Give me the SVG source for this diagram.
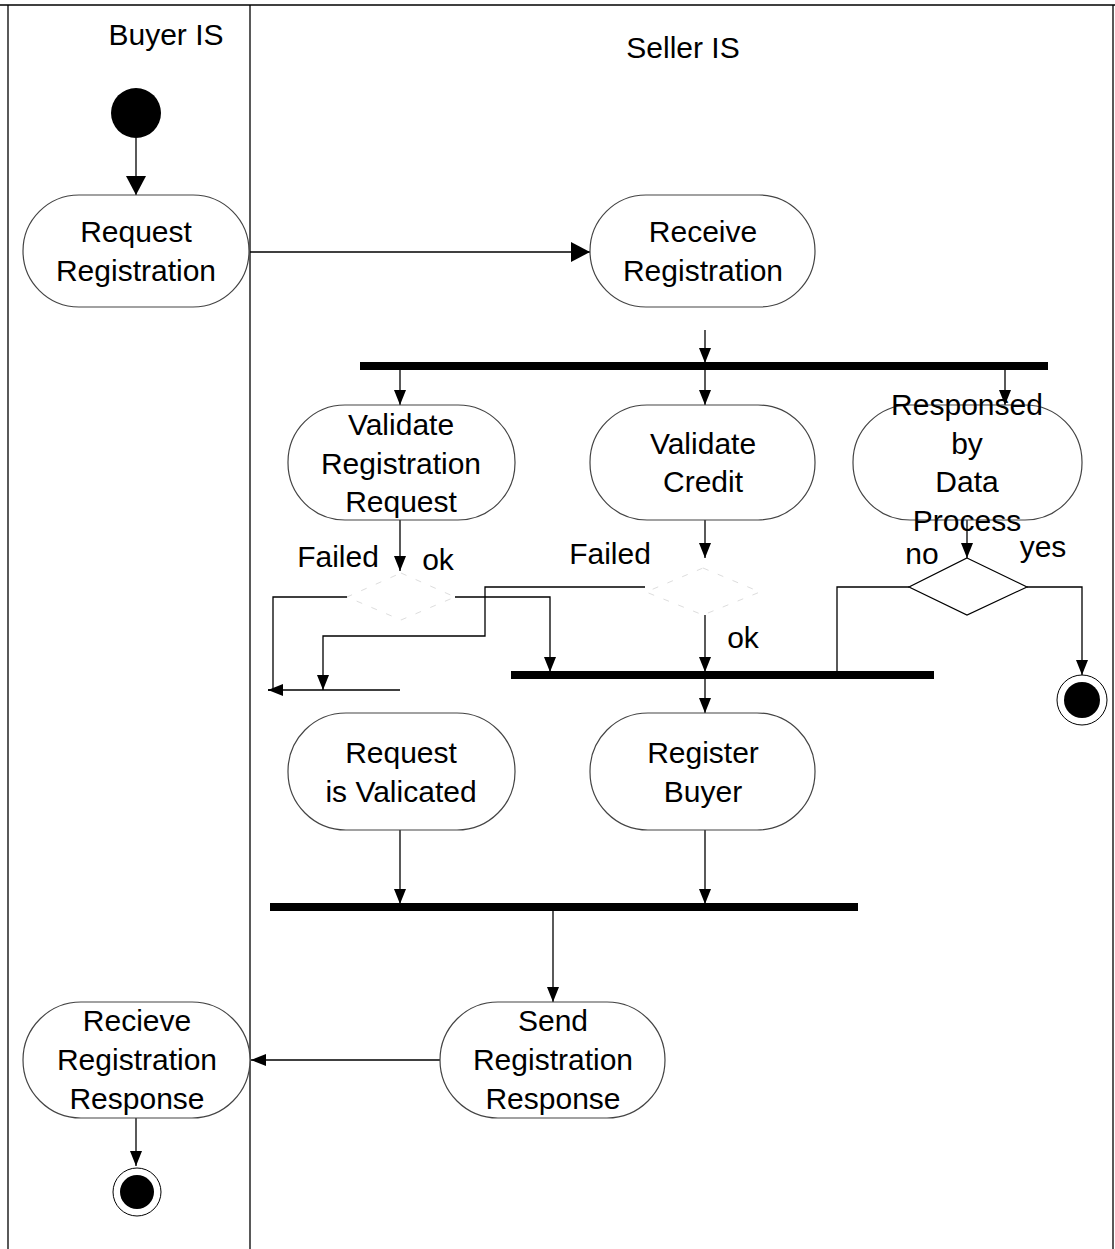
<svg xmlns="http://www.w3.org/2000/svg" width="1115" height="1249" viewBox="0 0 1115 1249">
<defs>
<marker id="arr" markerWidth="16" markerHeight="14" refX="15" refY="7" orient="auto" markerUnits="userSpaceOnUse">
<path d="M0,1 L15,7 L0,13 Z" fill="#000"/>
</marker>
<marker id="arrBig" markerWidth="20" markerHeight="22" refX="19" refY="11" orient="auto" markerUnits="userSpaceOnUse">
<path d="M0,1 L19,11 L0,21 Z" fill="#000"/>
</marker>
<style>
.act{fill:#fff;stroke:#444;stroke-width:1.2}
.t{font-family:"Liberation Sans",Arial,sans-serif;font-size:30px;fill:#000;text-anchor:middle}
.c{fill:none;stroke:#000;stroke-width:1.3}
.bar{fill:#000}
.faint{fill:none;stroke:#ddd;stroke-width:1;stroke-dasharray:6 10}
</style>
</defs>
<rect width="1115" height="1249" fill="#fff"/>
<g id="lanes">
<line x1="0" y1="5" x2="1115" y2="5" stroke="#000" stroke-width="1.5"/>
<line x1="8" y1="5" x2="8" y2="1249" stroke="#000" stroke-width="1.3"/>
<line x1="250" y1="5" x2="250" y2="1249" stroke="#000" stroke-width="1.3"/>
<line x1="1113" y1="5" x2="1113" y2="1249" stroke="#000" stroke-width="1.3"/>
<text class="t" x="166" y="45">Buyer IS</text>
<text class="t" x="683" y="58">Seller IS</text>
</g>
<g id="connectors">
<path class="c" d="M136,138 V195" marker-end="url(#arrBig)"/>
<path class="c" d="M250,252 H590" marker-end="url(#arrBig)"/>
<path class="c" d="M705,330 V363" marker-end="url(#arr)"/>
<path class="c" d="M400,370 V405" marker-end="url(#arr)"/>
<path class="c" d="M705,370 V405" marker-end="url(#arr)"/>
<path class="c" d="M1005,370 V405" stroke-width="0.8" marker-end="url(#arr)"/>
<path class="c" d="M400,520 V571" marker-end="url(#arr)"/>
<path class="c" d="M347,597 H273 V690 H268" marker-end="url(#arr)"/>
<path class="c" d="M268,690 H400"/>
<path class="c" d="M645,587 H485 V636 H323 V690" marker-end="url(#arr)"/>
<path class="c" d="M455,597 H550 V672" marker-end="url(#arr)"/>
<path class="c" d="M705,520 V558" marker-end="url(#arr)"/>
<path class="c" d="M705,615 V672" marker-end="url(#arr)"/>
<path class="c" d="M967,520 V558" marker-end="url(#arr)"/>
<path class="c" d="M909,587 H837 V672"/>
<path class="c" d="M1027,587 H1082 V675" marker-end="url(#arr)"/>
<path class="c" d="M705,679 V713" marker-end="url(#arr)"/>
<path class="c" d="M400,830 V904" marker-end="url(#arr)"/>
<path class="c" d="M705,830 V904" marker-end="url(#arr)"/>
<path class="c" d="M553,911 V1002" marker-end="url(#arr)"/>
<path class="c" d="M440,1060 H251" marker-end="url(#arr)"/>
<path class="c" d="M136,1118 V1166" marker-end="url(#arr)"/>
</g>
<g id="start"><circle cx="136" cy="113" r="25" fill="#000"/></g>
<g id="request-registration">
<rect class="act" x="23" y="195" width="226" height="112" rx="56" ry="56"/>
<text class="t" x="136" y="242">Request</text>
<text class="t" x="136" y="281">Registration</text>
</g>
<g id="receive-registration">
<rect class="act" x="590" y="195" width="225" height="112" rx="56" ry="56"/>
<text class="t" x="703" y="242">Receive</text>
<text class="t" x="703" y="281">Registration</text>
</g>
<g id="fork1"><rect class="bar" x="360" y="362" width="688" height="8"/></g>
<g id="validate-registration-request">
<rect class="act" x="288" y="405" width="227" height="115" rx="57" ry="57" stroke="#999"/>
<text class="t" x="401" y="435">Validate</text>
<text class="t" x="401" y="474">Registration</text>
<text class="t" x="401" y="512">Request</text>
</g>
<g id="validate-credit">
<rect class="act" x="590" y="405" width="225" height="115" rx="57" ry="57"/>
<text class="t" x="703" y="454">Validate</text>
<text class="t" x="703" y="492">Credit</text>
</g>
<g id="responsed-by-data-process">
<rect class="act" x="853" y="405" width="229" height="115" rx="57" ry="57"/>
<text class="t" x="967" y="415">Responsed</text>
<text class="t" x="967" y="454">by</text>
<text class="t" x="967" y="492">Data</text>
<text class="t" x="967" y="531">Process</text>
</g>
<g id="decision-validate"><polygon class="faint" points="401,573 455,597 401,620 347,597"/></g>
<g id="decision-credit"><polygon class="faint" points="703,568 760,592 703,615 646,592"/></g>
<g id="decision-responsed"><polygon points="967,558 1027,587 967,615 909,587" fill="#fff" stroke="#000" stroke-width="1.2"/></g>
<g id="labels">
<text class="t" x="338" y="567">Failed</text>
<text class="t" x="438" y="570">ok</text>
<text class="t" x="610" y="564">Failed</text>
<text class="t" x="743" y="648">ok</text>
<text class="t" x="922" y="564">no</text>
<text class="t" x="1043" y="557">yes</text>
</g>
<g id="join1"><rect class="bar" x="511" y="671" width="423" height="8"/></g>
<g id="final-right">
<circle cx="1082" cy="700" r="25" fill="#fff" stroke="#000" stroke-width="1"/>
<circle cx="1082" cy="700" r="18" fill="#000"/>
</g>
<g id="request-is-validated">
<rect class="act" x="288" y="713" width="227" height="117" rx="58" ry="58" stroke="#999"/>
<text class="t" x="401" y="763">Request</text>
<text class="t" x="401" y="802">is Valicated</text>
</g>
<g id="register-buyer">
<rect class="act" x="590" y="713" width="225" height="117" rx="58" ry="58"/>
<text class="t" x="703" y="763">Register</text>
<text class="t" x="703" y="802">Buyer</text>
</g>
<g id="join2"><rect class="bar" x="270" y="903" width="588" height="8"/></g>
<g id="send-registration-response">
<rect class="act" x="440" y="1002" width="225" height="116" rx="58" ry="58"/>
<text class="t" x="553" y="1031">Send</text>
<text class="t" x="553" y="1070">Registration</text>
<text class="t" x="553" y="1109">Response</text>
</g>
<g id="recieve-registration-response">
<rect class="act" x="23" y="1002" width="227" height="116" rx="58" ry="58"/>
<text class="t" x="137" y="1031">Recieve</text>
<text class="t" x="137" y="1070">Registration</text>
<text class="t" x="137" y="1109">Response</text>
</g>
<g id="final-left">
<circle cx="137" cy="1192" r="24" fill="#fff" stroke="#000" stroke-width="1"/>
<circle cx="137" cy="1192" r="17" fill="#000"/>
</g>
</svg>
